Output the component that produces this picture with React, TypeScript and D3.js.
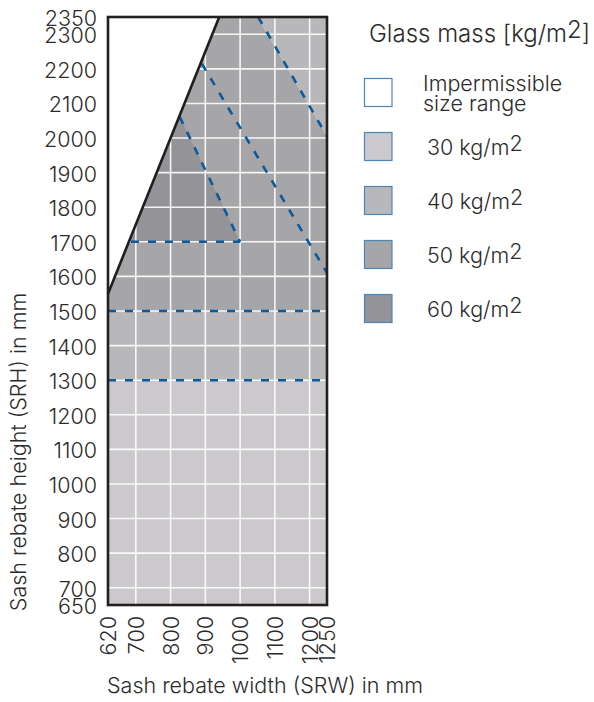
import React from "react";
import * as d3 from "d3";

const W = 594;
const H = 702;
const M = { left: 108, right: 327, top: 17, bottom: 605 };

const xDomain = [620, 1250];
const yDomain = [650, 2350];
const xTicks = [620, 700, 800, 900, 1000, 1100, 1200, 1250];
const yTicks = [650, 700, 800, 900, 1000, 1100, 1200, 1300, 1400, 1500, 1600, 1700, 1800, 1900, 2000, 2100, 2200, 2300, 2350];
const gridX = [700, 800, 900, 1000, 1100, 1200];
const gridY = [700, 800, 900, 1000, 1100, 1200, 1300, 1400, 1500, 1600, 1700, 1800, 1900, 2000, 2100, 2200, 2300];

// zone polygons in data units [SRW, SRH]
const zone30: [number, number][] = [[620, 650], [1250, 650], [1250, 1300], [620, 1300]];
const zone40a: [number, number][] = [[620, 1300], [1250, 1300], [1250, 1500], [620, 1500]];
const zone40b: [number, number][] = [[1050, 2350], [1250, 2350], [1250, 2005]];
const zone50: [number, number][] = [[620, 1500], [1250, 1500], [1250, 2005], [1050, 2350], [940, 2350], [620, 1550]];
const zone60: [number, number][] = [[682, 1700], [1000, 1700], [826, 2062]];
const boundary: [number, number][] = [[620, 1550], [940, 2350]];
const dashedLines: [number, number][][] = [
  [[620, 1300], [1250, 1300]],
  [[620, 1500], [1250, 1500]],
  [[686, 1700], [1000, 1700]],
  [[826, 2062], [1000, 1700]],
  [[890, 2215], [1250, 1610]],
  [[1052, 2350], [1250, 2005]],
];

const legendLabels = ["30", "40", "50", "60"];
const legendColors = ["#cbc9cc", "#b8b8ba", "#a6a6a8", "#949398"];
const zoneColors = { z30: "#cbc9cc", z40: "#b8b8ba", z50: "#a6a6a8", z60: "#949398" };

const FONT = "Inter, 'Noto Sans', sans-serif";
const TXT = "#2b2b2b";

export default function App() {
  const x = d3.scaleLinear().domain(xDomain).range([M.left, M.right]);
  const y = d3.scaleLinear().domain(yDomain).range([M.bottom, M.top]);
  const line = d3.line<[number, number]>().x((d) => x(d[0])).y((d) => y(d[1]));
  const poly = (pts: [number, number][]) => line(pts) + "Z";

  return (
    <svg width={W} height={H} style={{ position: "absolute", left: 0, top: 0, background: "#fff" }} fontFamily={FONT}>
      <rect x={M.left} y={M.top} width={M.right - M.left} height={M.bottom - M.top} fill="#fff" />
      <path d={poly(zone30)} fill={zoneColors.z30} />
      <path d={poly(zone40a)} fill={zoneColors.z40} />
      <path d={poly(zone40b)} fill={zoneColors.z40} />
      <path d={poly(zone50)} fill={zoneColors.z50} />
      <path d={poly(zone60)} fill={zoneColors.z60} />
      <g stroke="#fff" strokeWidth={1.6} opacity={0.9}>
        {gridX.map((v) => (
          <line key={"gx" + v} x1={x(v)} x2={x(v)} y1={M.top} y2={M.bottom} />
        ))}
        {gridY.map((v) => (
          <line key={"gy" + v} x1={M.left} x2={M.right} y1={y(v)} y2={y(v)} />
        ))}
      </g>
      <g stroke="#0a5a9c" strokeWidth={2.6} strokeDasharray="8,9" fill="none">
        {dashedLines.map((l, i) => (
          <path key={"d" + i} d={line(l) || ""} />
        ))}
      </g>
      <path d={line(boundary) || ""} stroke="#1e1e1e" strokeWidth={2.6} fill="none" />
      <rect x={M.left} y={M.top} width={M.right - M.left} height={M.bottom - M.top} fill="none" stroke="#231f20" strokeWidth={2.6} />

      {/* y ticks */}
      <g fill={TXT} fontSize={21.5} fontWeight={300} textAnchor="end">
        {yTicks.map((v) => (
          <text key={"yt" + v} x={97} y={y(v) + 1} dominantBaseline="central">
            {v}
          </text>
        ))}
      </g>
      {/* x ticks */}
      <g fill={TXT} fontSize={21.5} fontWeight={300} textAnchor="end">
        {xTicks.map((v) => (
          <text key={"xt" + v} transform={`translate(${x(v)},${616}) rotate(-90)`} dominantBaseline="central">
            {v}
          </text>
        ))}
      </g>
      <text x={265} y={693} textAnchor="middle" fontSize={21.5} fontWeight={300} fill={TXT}>
        Sash rebate width (SRW) in mm
      </text>
      <text transform={`translate(18,452) rotate(-90)`} textAnchor="middle" dominantBaseline="central" fontSize={21.5} fontWeight={300} fill={TXT}>
        Sash rebate height (SRH) in mm
      </text>

      {/* legend */}
      <text x={369} y={42} fontSize={24} fontWeight={300} fill={TXT}>
        Glass mass [kg/m<tspan dy={-4}>2</tspan><tspan dy={4}>]</tspan>
      </text>
      <rect x={364.5} y={78.5} width={27.5} height={28} fill="#fff" stroke="#4a86b8" strokeWidth={1.2} />
      <text x={423} y={91} fontSize={21.5} fontWeight={300} fill={TXT}>
        Impermissible
      </text>
      <text x={423} y={111} fontSize={21.5} fontWeight={300} fill={TXT}>
        size range
      </text>
      {legendLabels.map((lab, i) => (
        <g key={"lg" + lab}>
          <rect x={364.5} y={132.5 + i * 54} width={27.5} height={28} fill={legendColors[i]} stroke="#4a86b8" strokeWidth={1.2} />
          <text x={427} y={155 + i * 54} fontSize={21.5} fontWeight={300} fill={TXT}>
            {lab} kg/m<tspan dy={-4}>2</tspan>
          </text>
        </g>
      ))}
    </svg>
  );
}
